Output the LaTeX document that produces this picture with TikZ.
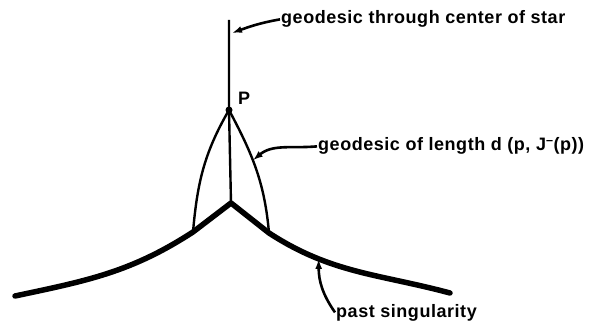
\documentclass[tikz,border=0pt]{standalone}
\usepackage{fontspec}
\setmainfont[LetterSpace=3]{Liberation Sans}
\usetikzlibrary{arrows.meta}

\begin{document}
\begin{tikzpicture}[x=1pt,y=1pt,
		geoline/.style={line width=2.4pt},
		singline/.style={line width=5.5pt,line cap=round,line join=round},
		leader/.style={line width=2.6pt,-{Latex[length=10pt,width=7pt]}},
		lbl/.style={font=\fontsize{18}{20}\selectfont\bfseries,inner sep=1pt}]
		\useasboundingbox (0,0) rectangle (610,324);
		% points of the picture
		\coordinate (top) at (229,304);
		\coordinate (P) at (229,214);
		\coordinate (cusp) at (231,121);
		\coordinate (left) at (15,28);
		\coordinate (right) at (450,31);
		\coordinate (meetL) at (193,92);
		\coordinate (meetR) at (269,91);
		\coordinate (tipT) at (232,291);
		
		% past singularity
		\draw[singline] (left) to[out=12,in=213] (meetL) -- (cusp) -- (meetR) to[out=-33,in=165] coordinate[pos=0.28] (tipS) (right);
		
		% geodesics
		\draw[geoline] (top) -- (P) -- (cusp);
		\draw[geoline] (P) to[out=240,in=85] (meetL);
		\draw[geoline] (P) to[out=-62,in=95] coordinate[pos=0.42] (tipR) (meetR);
		\fill (P) circle (3.5pt);
		\node[lbl] (Plabel) at (244,226) {P};
		
		% labels
		\node[lbl,anchor=base west] (starlabel) at (280,300) {geodesic through center of star};
		\node[lbl,anchor=base west] (lengthlabel) at (317,173) {geodesic of length d (p, J\textsuperscript{--}(p))};
		\node[lbl,anchor=base west] (pastlabel) at (335,7) {past singularity};
		
		\draw[leader] (starlabel.west) to[out=190,in=20] (tipT);
		\draw[leader] (lengthlabel.west) to[out=185,in=40] (tipR);
		\draw[leader] (pastlabel.west) to[out=125,in=-90] (tipS);
	\end{tikzpicture}
\end{document}
